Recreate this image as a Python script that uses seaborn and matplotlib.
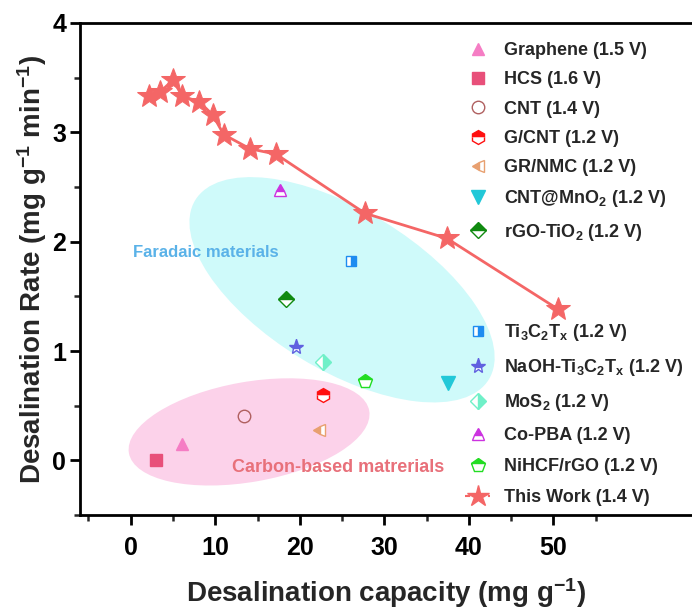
import matplotlib
matplotlib.use("Agg")
import matplotlib.pyplot as plt
import matplotlib.transforms as mtransforms
from matplotlib.patches import Ellipse
from matplotlib.lines import Line2D
import seaborn as sns
import pandas as pd

# ---------------- data ----------------
work_x = [2.2, 3.5, 5.0, 6.1, 8.1, 9.7, 11.0, 14.1, 17.2, 27.7, 37.4, 50.6]
work_y = [3.33, 3.37, 3.48, 3.33, 3.28, 3.16, 2.98, 2.85, 2.80, 2.26, 2.03, 1.38]

materials = ["Graphene (1.5 V)", "HCS (1.6 V)", "CNT (1.4 V)", "G/CNT (1.2 V)",
             "GR/NMC (1.2 V)", "CNT@MnO$_2$ (1.2 V)", "rGO-TiO$_2$ (1.2 V)",
             "Ti$_3$C$_2$T$_x$ (1.2 V)", "NaOH-Ti$_3$C$_2$T$_x$ (1.2 V)",
             "MoS$_2$ (1.2 V)", "Co-PBA (1.2 V)", "NiHCF/rGO (1.2 V)"]
mat_x = [6.1, 3.0, 13.4, 22.8, 22.3, 37.5, 18.4, 26.1, 19.5, 22.7, 17.7, 27.7]
mat_y = [0.15, 0.00, 0.41, 0.60, 0.28, 0.71, 1.48, 1.82, 1.04, 0.90, 2.47, 0.73]
work_label = "This Work (1.4 V)"

x_ticks = [0, 10, 20, 30, 40, 50]
y_ticks = [0, 1, 2, 3, 4]

# ---------------- styles ----------------
styles = [
    dict(marker="^", color="#F57DC4", fillstyle="full", ms=9),
    dict(marker="s", color="#E8507A", fillstyle="full", ms=8),
    dict(marker="o", color="#B06060", fillstyle="none", ms=9, mfc="white"),
    dict(marker="h", color="#FF1010", fillstyle="top", ms=10),
    dict(marker="<", color="#E8A070", fillstyle="left", ms=9),
    dict(marker="v", color="#22C8D8", fillstyle="full", ms=10),
    dict(marker="D", color="#108A10", fillstyle="top", ms=8),
    dict(marker="s", color="#1E8CF0", fillstyle="right", ms=7),
    dict(marker="*", color="#6060E0", fillstyle="top", ms=11),
    dict(marker="D", color="#70F0C8", fillstyle="right", ms=8),
    dict(marker="^", color="#CC33E0", fillstyle="top", ms=9),
    dict(marker="p", color="#22DD22", fillstyle="top", ms=10),
]
star_color = "#F46666"

sns.set_theme(style="ticks")
plt.rcParams["font.family"] = ["Liberation Sans", "DejaVu Sans"]
plt.rcParams["font.weight"] = "bold"
plt.rcParams["mathtext.fontset"] = "custom"
plt.rcParams["mathtext.rm"] = "Liberation Sans:bold"
plt.rcParams["mathtext.bf"] = "Liberation Sans:bold"
plt.rcParams["mathtext.it"] = "Liberation Sans:bold"
plt.rcParams["mathtext.default"] = "rm"

fig = plt.figure(figsize=(6.92, 6.10), dpi=100)
ax = fig.add_axes([80 / 692, 1 - 515 / 610, 1 - 80 / 692, (515 - 23) / 610])
ax.set_xlim(-6, 66.4)
ax.set_ylim(-0.5, 4)

# background ellipses (sized in inches, positioned in data)
def add_ellipse(cx, cy, w, h, ang, color):
    tr = fig.dpi_scale_trans + mtransforms.ScaledTranslation(cx, cy, ax.transData)
    e = Ellipse((0, 0), w, h, angle=ang, transform=tr, facecolor=color,
                edgecolor="none", zorder=0)
    ax.add_patch(e)

add_ellipse(25.0, 1.56, 3.44, 1.60, -31.4, "#CFFAFA")
add_ellipse(14.0, 0.26, 2.44, 1.00, 10, "#FCD2EA")

ax.text(0.3, 1.90, "Faradaic materials", color="#5AB2E8", fontsize=12,
        fontweight="bold", va="center", ha="left", zorder=1)
ax.text(11.95, -0.07, "Carbon-based matrerials", color="#E8707A", fontsize=13,
        fontweight="bold", va="center", ha="left", zorder=1)

handles = []
for name, x, y, st in zip(materials, mat_x, mat_y, styles):
    mfc = st.get("mfc", st["color"])
    h, = ax.plot([x], [y], linestyle="none", marker=st["marker"],
                 markersize=st["ms"], color=st["color"], markerfacecolor=mfc,
                 markerfacecoloralt="white", markeredgecolor=st["color"],
                 markeredgewidth=1.0, fillstyle=st["fillstyle"], label=name,
                 zorder=3)
    handles.append(h)

df = pd.DataFrame({"x": work_x, "y": work_y})
sns.lineplot(data=df, x="x", y="y", ax=ax, color=star_color, linewidth=2,
             marker="*", markersize=18, markeredgecolor=star_color,
             sort=False, zorder=4, legend=False)
work_handle = Line2D([], [], color=star_color, linewidth=1.5, linestyle=(0, (2.5, 3)),
                     marker="*", markersize=16, markeredgecolor=star_color)

ax.set_xticks(x_ticks)
ax.set_yticks(y_ticks)
ax.set_xticks([-5, 5, 15, 25, 35, 45, 55], minor=True)
ax.set_yticks([-0.5, 0.5, 1.5, 2.5, 3.5], minor=True)
ax.tick_params(axis="both", which="major", length=7, width=2, labelsize=18,
               direction="out", colors="black")
ax.tick_params(axis="x", which="major", pad=8)
ax.tick_params(axis="y", which="major", pad=3)
ax.tick_params(axis="both", which="minor", length=4, width=1.8, direction="out")
for lab in ax.get_xticklabels() + ax.get_yticklabels():
    lab.set_fontweight("bold")
for s in ["left", "bottom", "top"]:
    ax.spines[s].set_linewidth(2)
    ax.spines[s].set_color("black")
ax.spines["right"].set_visible(False)

ax.set_xlabel("Desalination capacity (mg g$^{-1}$)", fontsize=20, fontweight="bold",
              labelpad=12)
ax.set_ylabel("Desalination Rate (mg g$^{-1}$ min$^{-1}$)", fontsize=20,
              fontweight="bold", labelpad=2)

leg_kw = dict(loc="upper left", frameon=False, fontsize=13, handlelength=1.4,
              handletextpad=0.75, borderpad=0)
leg1 = fig.legend(handles=handles[:7], bbox_to_anchor=(456 / 692, 1 - 33 / 610),
                  labelspacing=0.68, **leg_kw)
leg2 = fig.legend(handles=handles[7:] + [work_handle],
                  labels=materials[7:] + [work_label],
                  bbox_to_anchor=(456 / 692, 1 - 313 / 610),
                  labelspacing=0.78, **leg_kw)

fig.savefig("out.png", dpi=100)
